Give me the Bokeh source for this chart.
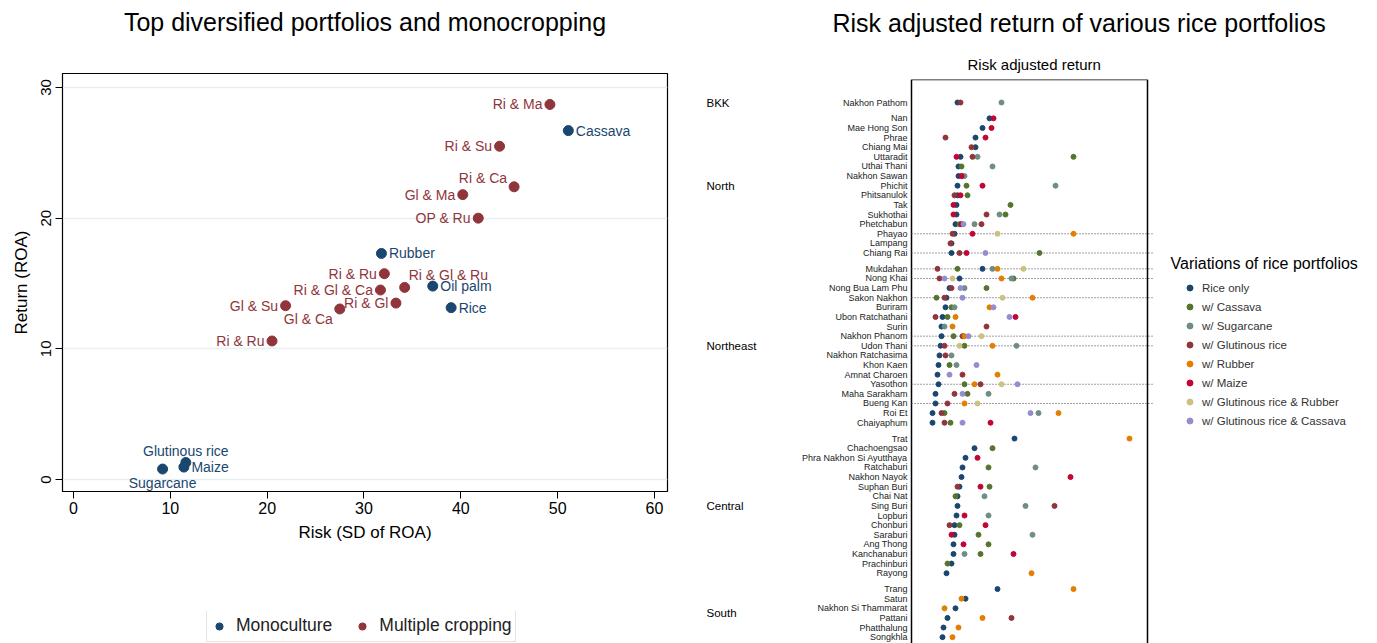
from bokeh.plotting import figure
from bokeh.layouts import row, column
from bokeh.models import (ColumnDataSource, Range1d, FixedTicker, Legend, LegendItem, Title)
from bokeh.core.properties import value
from bokeh.embed import file_html
from bokeh.resources import INLINE

FONT = "Liberation Sans"
NAVY = "#1a476f"
MAROON = "#90353b"
GREEN = "#55752f"
TEAL = "#6e8e84"
ORANGE = "#e37e00"
CRANBERRY = "#c10534"
KHAKI = "#cac27e"
LAVENDER = "#938dd2"
N = None

# ---------------- Left panel data ----------------
crop_names = ["Ri & Ma", "Cassava", "Ri & Su", "Ri & Ca", "Gl & Ma", "OP & Ru", "Rubber",
              "Ri & Ru", "Ri & Gl & Ru", "Oil palm", "Ri & Gl & Ca", "Gl & Su", "Ri & Gl",
              "Gl & Ca", "Rice", "Ri & Ru", "Sugarcane", "Maize", "Glutinous rice"]
crop_risk = [49.2, 51.1, 44.0, 45.5, 40.2, 41.8, 31.8, 32.1, 34.2, 37.1, 31.7, 21.9, 33.3,
             27.5, 39.0, 20.5, 9.2, 11.4, 11.6]
crop_return = [28.7, 26.7, 25.5, 22.4, 21.8, 20.0, 17.3, 15.75, 14.7, 14.8, 14.5, 13.3, 13.5,
               13.05, 13.15, 10.6, 0.8, 0.95, 1.3]
crop_type = ["Multiple cropping", "Monoculture", "Multiple cropping", "Multiple cropping",
             "Multiple cropping", "Multiple cropping", "Monoculture", "Multiple cropping",
             "Multiple cropping", "Monoculture", "Multiple cropping", "Multiple cropping",
             "Multiple cropping", "Multiple cropping", "Monoculture", "Multiple cropping",
             "Monoculture", "Monoculture", "Monoculture"]
label_clock = [9, 3, 9, 11, 9, 9, 3, 9, 1, 3, 9, 9, 9, 7, 3, 9, 6, 3, 12]
x_ticks = [0, 10, 20, 30, 40, 50, 60]
y_ticks = [0, 10, 20, 30]

# ---------------- Right panel data ----------------
regions = ["BKK", "North", "Northeast", "Central", "South"]
region_provinces = [
    ["Nakhon Pathom"],
    ["Nan", "Mae Hong Son", "Phrae", "Chiang Mai", "Uttaradit", "Uthai Thani", "Nakhon Sawan",
     "Phichit", "Phitsanulok", "Tak", "Sukhothai", "Phetchabun", "Phayao", "Lampang", "Chiang Rai"],
    ["Mukdahan", "Nong Khai", "Nong Bua Lam Phu", "Sakon Nakhon", "Buriram", "Ubon Ratchathani",
     "Surin", "Nakhon Phanom", "Udon Thani", "Nakhon Ratchasima", "Khon Kaen", "Amnat Charoen",
     "Yasothon", "Maha Sarakham", "Bueng Kan", "Roi Et", "Chaiyaphum"],
    ["Trat", "Chachoengsao", "Phra Nakhon Si Ayutthaya", "Ratchaburi", "Nakhon Nayok",
     "Suphan Buri", "Chai Nat", "Sing Buri", "Lopburi", "Chonburi", "Saraburi", "Ang Thong",
     "Kanchanaburi", "Prachinburi", "Rayong"],
    ["Trang", "Satun", "Nakhon Si Thammarat", "Pattani", "Phatthalung", "Songkhla"],
]

rice_only = [0.46, 0.78, 0.71, 0.64, 0.64, 0.49, 0.47, 0.47, 0.46, 0.46, 0.45, 0.45, 0.44, 0.43, 0.40, 0.40,
             0.71, 0.48, 0.38, 0.35, 0.34, 0.31, 0.30, 0.30, 0.29, 0.28, 0.27, 0.26, 0.27, 0.24, 0.24, 0.21, 0.21,
             1.03, 0.63, 0.54, 0.51, 0.50, 0.48, 0.46, 0.46, 0.45, 0.43, 0.43, 0.42, 0.42, 0.40, 0.35,
             0.86, 0.54, 0.44, 0.36, 0.32, 0.31]
w_cassava = [N, N, N, N, N, 1.62, 0.50, 0.51, 0.55, 0.56, 0.99, 0.94, 0.48, N, N, 1.28,
             0.46, 1.02, 0.75, 0.25, 0.40, 0.36, N, 0.42, 0.53, N, 0.38, N, 0.53, 0.56, N, 0.33, 0.39,
             N, 0.81, N, 0.77, N, 0.78, 0.44, N, N, 0.48, 0.67, 0.77, 0.69, 0.36, N,
             N, N, N, N, N, N]
w_sugarcane = [0.90, N, N, N, N, 0.66, 0.81, 0.53, 1.44, N, N, 0.88, 0.63, N, N, N,
               0.81, 1.00, 0.53, N, 0.43, N, 0.33, N, 1.05, 0.40, 0.45, N, N, 0.77, N, 1.27, N,
               N, N, N, 1.24, N, N, 0.73, 1.14, 0.77, N, 1.21, N, 0.53, N, N,
               N, N, N, N, N, N]
w_glutinous = [0.49, N, N, 0.34, 0.60, 0.61, N, N, N, 0.43, N, 0.75, 0.70, 0.41, 0.39, 0.48,
               0.26, 0.28, 0.40, 0.33, N, 0.24, 0.75, 0.51, 0.33, 0.34, N, 0.51, 0.69, 0.43, 0.36, 0.30, 0.33,
               N, N, N, N, N, 0.46, N, 1.43, N, 0.38, N, N, N, N, N,
               N, N, N, 1.00, N, N]
w_rubber = [N, N, N, N, N, N, N, N, N, N, N, N, N, 1.62, N, N,
            0.86, 0.90, N, 1.21, 0.78, 0.44, 0.41, 0.53, 0.81, N, N, 0.86, 0.63, N, 0.53, 1.47, N,
            2.18, N, N, N, N, N, N, N, N, N, N, N, N, N, 1.20,
            1.62, 0.50, 0.33, 0.71, 0.47, 0.41]
w_maize = [N, 0.82, 0.80, 0.74, N, 0.45, N, 0.50, 0.71, 0.49, 0.42, 0.42, 0.50, 0.61, N, 0.55,
           N, N, N, N, N, 1.04, N, N, N, N, N, N, N, N, N, N, 0.79,
           N, N, 0.66, N, 1.59, 0.69, N, N, 0.53, 0.74, 0.40, 0.52, 1.02, N, N,
           N, N, N, N, N, N]
w_gl_rubber = [N, N, N, N, N, N, N, N, N, N, N, N, N, 0.86, N, N,
               1.12, 0.41, N, 0.91, N, N, N, 0.70, 0.48, N, N, N, 0.90, N, 0.66, N, N,
               N, N, N, N, N, N, N, N, N, N, N, N, N, N, N,
               N, N, N, N, N, N]
w_gl_cassava = [N, N, N, N, N, N, N, N, N, N, N, N, 0.52, N, N, 0.74,
                N, 0.33, 0.49, 0.51, 0.82, 0.98, N, 0.57, N, N, 0.65, 0.38, 1.06, 0.51, N, 1.19, 0.51,
                N, N, N, N, N, N, N, N, N, N, N, N, N, N, N,
                N, N, N, N, N, N]
dotted_rows = ["Phayao", "Chiang Rai", "Mukdahan", "Nong Khai", "Sakon Nakhon",
               "Nakhon Phanom", "Udon Thani", "Yasothon", "Bueng Kan"]

series = [
    ("Rice only", rice_only, NAVY),
    ("w/ Cassava", w_cassava, GREEN),
    ("w/ Sugarcane", w_sugarcane, TEAL),
    ("w/ Glutinous rice", w_glutinous, MAROON),
    ("w/ Rubber", w_rubber, ORANGE),
    ("w/ Maize", w_maize, CRANBERRY),
    ("w/ Glutinous rice & Rubber", w_gl_rubber, KHAKI),
    ("w/ Glutinous rice & Cassava", w_gl_cassava, LAVENDER),
]

# ================= LEFT FIGURE =================
p1 = figure(width=700, height=611, x_range=Range1d(-1.136, 61.343), y_range=Range1d(-0.918, 31.07),
            output_backend="svg", toolbar_location=None,
            min_border_left=62, min_border_right=33, min_border_top=73, min_border_bottom=120)
p1.frame_align = False
p1.title.text = "Top diversified portfolios and monocropping"
p1.title.align = "center"
p1.title.vertical_align = "top"
p1.title.text_font = FONT
p1.title.text_font_size = "25px"
p1.title.text_font_style = "normal"
p1.title.text_color = "black"
p1.title.standoff = 10
p1.add_layout(Title(text=" ", text_font_size="10px", standoff=18), "above")
p1.outline_line_color = "black"
p1.outline_line_width = 1.2
p1.xgrid.visible = False
p1.ygrid.grid_line_color = "#e6eff1"
p1.ygrid.grid_line_width = 1.5
p1.xaxis.ticker = FixedTicker(ticks=x_ticks)
p1.yaxis.ticker = FixedTicker(ticks=y_ticks)
for ax in (p1.xaxis[0], p1.yaxis[0]):
    ax.axis_line_color = "black"
    ax.major_tick_out = 7
    ax.major_tick_in = 0
    ax.minor_tick_line_color = None
    ax.major_label_text_font = FONT
    ax.major_label_text_color = "black"
    ax.axis_label_text_font = FONT
    ax.axis_label_text_font_style = "normal"
    ax.axis_label_text_color = "black"
    ax.axis_label_text_font_size = "17px"
p1.xaxis.axis_label = "Risk (SD of ROA)"
p1.yaxis.axis_label = "Return (ROA)"
p1.xaxis.major_label_text_font_size = "16px"
p1.yaxis.major_label_text_font_size = "15px"
p1.yaxis.major_label_orientation = "vertical"
p1.xaxis.major_label_standoff = 3
p1.yaxis.major_label_standoff = 4
p1.xaxis.axis_label_standoff = 6
p1.yaxis.axis_label_standoff = 8

type_colors = {"Monoculture": NAVY, "Multiple cropping": MAROON}
type_sources = {}
for t in ["Monoculture", "Multiple cropping"]:
    idx = [i for i in range(len(crop_names)) if crop_type[i] == t]
    type_sources[t] = dict(x=[crop_risk[i] for i in idx], y=[crop_return[i] for i in idx])
    p1.scatter("x", "y", source=ColumnDataSource(type_sources[t]), size=10, color=type_colors[t])

clock_style = {
    9: ("right", -7.5, 0), 3: ("left", 7.5, 0), 11: ("right", -7, -9), 1: ("left", 4, -12),
    7: ("right", -7, 10), 12: ("center", 0, -12), 6: ("center", 0, 14),
}
for pos, (align, dx, dy) in clock_style.items():
    idx = [i for i in range(len(crop_names)) if label_clock[i] == pos]
    if not idx:
        continue
    src = ColumnDataSource(dict(x=[crop_risk[i] for i in idx], y=[crop_return[i] for i in idx],
                                t=[crop_names[i] for i in idx],
                                c=[type_colors[crop_type[i]] for i in idx]))
    p1.text("x", "y", text="t", source=src, text_color="c", text_align=value(align),
            text_baseline=value("middle"), x_offset=dx, y_offset=dy,
            text_font=value(FONT), text_font_size=value("14px"))

# legend strip below the left chart (its renderers hold the same points, out of its view)
lf = figure(width=700, height=32, x_range=Range1d(-1000, -999), y_range=Range1d(-1000, -999),
            output_backend="svg", toolbar_location=None, x_axis_location=None,
            y_axis_location=None, min_border_left=0, min_border_right=0,
            min_border_top=0, min_border_bottom=0)
lf.frame_align = False
lf.outline_line_color = None
lf.grid.visible = False
legend_items = []
for t in ["Monoculture", "Multiple cropping"]:
    r = lf.scatter("x", "y", source=ColumnDataSource(type_sources[t]), size=10, color=type_colors[t])
    legend_items.append(LegendItem(label=t, renderers=[r]))
leg1 = Legend(items=legend_items, orientation="horizontal", location=(206, 1))
leg1.label_text_font = FONT
leg1.label_text_font_size = "17.5px"
leg1.label_text_color = "#222222"
leg1.glyph_width = 18
leg1.glyph_height = 18
leg1.label_height = 25
leg1.padding = 3
leg1.label_standoff = 8
leg1.spacing = 21
leg1.border_line_color = "#c8c8c8"
leg1.border_line_width = 1
leg1.background_fill_alpha = 1
leg1.margin = 0
lf.add_layout(leg1)

# ================= RIGHT FIGURE =================
group_gap = 0.65
prov_names, prov_pos, region_centers = [], [], []
k = 0
for gi, provs in enumerate(region_provinces):
    first = None
    for name in provs:
        pos = k + gi * group_gap
        if first is None:
            first = pos
        prov_names.append(name)
        prov_pos.append(pos)
        k += 1
    region_centers.append((first + prov_pos[-1]) / 2)

box_lo, box_hi = 0.0, 2.36       # plot-region box of the dot chart
y_top, y_bot = -2.392, 56.26
p2 = figure(width=677, height=643, x_range=Range1d(-2.11, 4.66), y_range=Range1d(y_bot, y_top),
            output_backend="svg", toolbar_location=None, x_axis_location=None,
            y_axis_location=None, min_border_left=0, min_border_right=0,
            min_border_top=79, min_border_bottom=0)
p2.frame_align = False
p2.outline_line_color = None
p2.grid.visible = False
p2.title.text = "Risk adjusted return of various rice portfolios"
p2.title.align = "left"
p2.title.vertical_align = "top"
p2.title.offset = 132
p2.title.text_font = FONT
p2.title.text_font_size = "25px"
p2.title.text_font_style = "normal"
p2.title.text_color = "black"
p2.title.standoff = 16
p2.add_layout(Title(text="Risk adjusted return", align="left", offset=267, text_font=FONT,
                    text_font_size="15px", text_font_style="normal", text_color="black",
                    standoff=14), "above")

# plot-region box (open at the bottom, where the page ends)
p2.segment(x0=[box_lo, box_hi, box_lo], y0=[y_bot, y_bot, y_top],
           x1=[box_lo, box_hi, box_hi], y1=[y_top, y_top, y_top],
           line_color="black", line_width=1.5)

# dotted guide rows
dr = [prov_pos[prov_names.index(n)] for n in dotted_rows]
p2.segment(x0=[box_lo] * len(dr), y0=dr, x1=[box_hi + 0.06] * len(dr), y1=dr,
           line_color="#444444", line_width=1, line_dash="1 2")

items2 = []
for label, vals, col in series:
    xs = [v for v in vals if v is not None]
    ys = [prov_pos[i] for i, v in enumerate(vals) if v is not None]
    r = p2.scatter(xs, ys, size=5, color=col)
    items2.append(LegendItem(label=label, renderers=[r]))

# province labels
p2.text(x=[box_lo] * len(prov_names), y=prov_pos, text=prov_names, x_offset=-4,
        text_align=value("right"), text_baseline=value("middle"), text_font=value(FONT),
        text_font_size=value("9px"), text_color="#222222")
# region labels
p2.text(x=[box_lo - 2.05] * len(regions), y=region_centers, text=regions,
        text_align=value("left"), text_baseline=value("middle"), text_font=value(FONT),
        text_font_size=value("11.5px"), text_color="black")
# legend title
p2.text(x=[box_hi + 0.23], y=[16.71], text=["Variations of rice portfolios"],
        text_align=value("left"), text_baseline=value("middle"), text_font=value(FONT),
        text_font_size=value("16px"), text_color="black")

leg2 = Legend(items=items2, location=(482, 213))
leg2.label_text_font = FONT
leg2.label_text_font_size = "11.5px"
leg2.label_text_color = "#333333"
leg2.glyph_width = 15
leg2.glyph_height = 15
leg2.label_height = 19
leg2.padding = 0
leg2.spacing = 0
leg2.label_standoff = 5
leg2.border_line_color = None
leg2.background_fill_alpha = 0
leg2.margin = 0
p2.add_layout(leg2)

layout = row(column(p1, lf), p2)
open("out.html", "w").write(file_html(layout, INLINE))
